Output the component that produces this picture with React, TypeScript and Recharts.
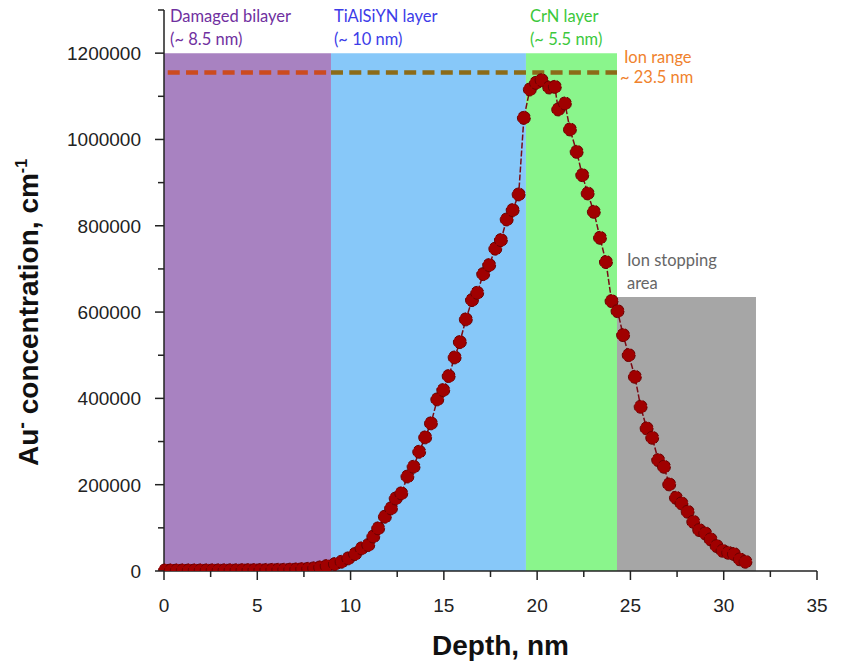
import { LineChart, Line, XAxis, YAxis, ReferenceArea, ReferenceLine } from "recharts";

// ─── Data ────────────────────────────────────────────────
const depth = [
  0.05, 0.37, 0.69, 1.01, 1.33, 1.65, 1.97, 2.29, 2.61, 2.93, 3.25, 3.57, 3.89, 4.21, 4.53, 4.85,
  5.17, 5.49, 5.81, 6.13, 6.45, 6.77, 7.09, 7.41, 7.73, 8.05, 8.37, 8.72, 9.16, 9.52, 9.88, 10.24,
  10.59, 10.95, 11.22, 11.48, 11.84, 12.17, 12.42, 12.72, 13.05, 13.38, 13.68, 14.0, 14.31, 14.65,
  14.97, 15.26, 15.58, 15.86, 16.18, 16.51, 16.79, 17.11, 17.43, 17.76, 18.06, 18.37, 18.69, 19.01,
  19.29, 19.61, 19.94, 20.24, 20.65, 20.95, 21.13, 21.49, 21.76, 22.12, 22.42, 22.71, 23.04, 23.37,
  23.69, 23.99, 24.31, 24.61, 24.91, 25.24, 25.55, 25.87, 26.17, 26.49, 26.8, 27.08, 27.44, 27.74,
  28.07, 28.37, 28.69, 29.01, 29.3, 29.62, 29.94, 30.24, 30.55, 30.87, 31.17,
];

const concentration = [
  1500, 1500, 1500, 1600, 1600, 1600, 1700, 1700, 1800, 1800, 1900, 2000, 2000, 2100, 2200, 2300,
  2400, 2500, 2700, 2900, 3100, 3400, 3800, 4400, 5200, 6500, 8500, 11600, 16200, 21500, 29400, 39400,
  52600, 60200, 80000, 98900, 125800, 145200, 168000, 180000, 219000, 241600, 276400, 309700, 342200, 397800,
  419300, 451700, 495000, 530500, 583100, 627800, 644700, 688000, 708900, 747000, 766800, 814700, 836300, 872700,
  1050100, 1115900, 1131200, 1137400, 1120500, 1121900, 1069600, 1083500, 1023200, 971400, 917400, 875000, 832400, 772200,
  716000, 625500, 602300, 546700, 500400, 450100, 380600, 330600, 308800, 257100, 241600, 200800, 169800, 156800,
  137400, 114200, 95000, 87300, 73400, 57900, 47000, 42400, 39400, 27100, 21500,
];

// layers (nm) and their shading heights
const layerNames = ["Damaged bilayer", "TiAlSiYN layer", "CrN layer", "Ion stopping"];
const layerNotes = ["(~ 8.5 nm)", "(~ 10 nm)", "(~ 5.5 nm)", "area"];
const layerStart = [0, 8.95, 19.4, 24.28];
const layerEnd = [8.95, 19.4, 24.28, 31.73];
const layerTop = [1200000, 1200000, 1200000, 635000];

const ionRangeLevel = 1155000;
const ionRangeStart = 0.2;
const ionRangeEnd = 24.28;

const xTicks = [0, 2.5, 5, 7.5, 10, 12.5, 15, 17.5, 20, 22.5, 25, 27.5, 30, 32.5, 35];
const yTicks = [
  0, 100000, 200000, 300000, 400000, 500000, 600000, 700000, 800000, 900000, 1000000, 1100000,
  1200000, 1300000,
];

const chartData = depth.map((d, i) => ({ depth: d, conc: concentration[i] }));

// ─── Styles ──────────────────────────────────────────────
const layerFill = ["#A882C1", "#87C8F9", "#8AF58C", "#A6A6A6"];
const layerText = ["#7030A0", "#3C3CE8", "#3CC83C", "#666666"];
const ARIAL = "'Liberation Sans', Arial, sans-serif";
const CALIBRI = "Lato, 'Open Sans', sans-serif";

function XTick({ x, y, payload }: any) {
  const v = payload.value;
  const major = v % 5 === 0;
  return (
    <g>
      <line x1={x} y1={y} x2={x} y2={y + (major ? 9 : 6)} stroke="#222" strokeWidth={1.5} />
      {major && (
        <text x={x} y={y + 41} textAnchor="middle" fontSize={19} fill="#222" fontFamily={ARIAL}>
          {v}
        </text>
      )}
    </g>
  );
}

function YTick({ x, y, payload }: any) {
  const v = payload.value;
  const major = v % 200000 === 0;
  return (
    <g>
      <line x1={x - (major ? 9 : 6)} y1={y} x2={x} y2={y} stroke="#222" strokeWidth={1.5} />
      {major && (
        <text x={x - 23} y={y + 7} textAnchor="end" fontSize={19} fill="#222" fontFamily={ARIAL}>
          {v}
        </text>
      )}
    </g>
  );
}

function layerLabel(i: number, dx: number) {
  return ({ viewBox }: any) => (
    <text fontFamily={CALIBRI} fontSize={16.5} fill={layerText[i]}>
      <tspan x={viewBox.x + dx} y={viewBox.y - 31}>
        {layerNames[i]}
      </tspan>
      <tspan x={viewBox.x + dx} y={viewBox.y - 8}>
        {layerNotes[i]}
      </tspan>
    </text>
  );
}

const ionLabel = ({ viewBox }: any) => {
  const end = viewBox.x + viewBox.width;
  return (
    <text fontFamily={CALIBRI} fontSize={16.5} fill="#F0822D">
      <tspan x={end + 7} y={viewBox.y - 10}>
        Ion range
      </tspan>
      <tspan x={end + 3} y={viewBox.y + 10}>
        ~ 23.5 nm
      </tspan>
    </text>
  );
};

const xTitle = ({ viewBox }: any) => (
  <text
    x={viewBox.x + viewBox.width / 2 + 10}
    y={viewBox.y + 84}
    textAnchor="middle"
    fontFamily={ARIAL}
    fontWeight="bold"
    fontSize={28}
    fill="#111"
  >
    Depth, nm
  </text>
);

const yTitle = ({ viewBox }: any) => {
  const cx = 38;
  const cy = viewBox.y + viewBox.height / 2 + 22;
  return (
    <text
      x={cx}
      y={cy}
      transform={`rotate(-90, ${cx}, ${cy})`}
      textAnchor="middle"
      fontFamily={ARIAL}
      fontWeight="bold"
      fontSize={28}
      fill="#111"
    >
      Au
      <tspan dy={-10} fontSize={20}>
        -
      </tspan>
      <tspan dy={10}> concentration, cm</tspan>
      <tspan dy={-11} fontSize={16}>
        -1
      </tspan>
    </text>
  );
};

export default function App() {
  return (
    <div style={{ position: "absolute", left: 0, top: 0, width: 843, height: 663, background: "#fff" }}>
      <LineChart
        width={843}
        height={663}
        data={chartData}
        margin={{ top: 10, right: 26, bottom: 0, left: 0 }}
      >
        {layerNames.map((name, i) => (
          <ReferenceArea
            key={name}
            x1={layerStart[i]}
            x2={layerEnd[i]}
            y1={0}
            y2={layerTop[i]}
            fill={layerFill[i]}
            fillOpacity={1}
            stroke="none"
            label={layerLabel(i, [6, 3, 4, 10][i])}
          />
        ))}
        <XAxis
          dataKey="depth"
          type="number"
          domain={[0, 35]}
          ticks={xTicks}
          interval={0}
          height={92}
          tickSize={0}
          tickMargin={0}
          tickLine={false}
          tick={<XTick />}
          axisLine={{ stroke: "#222", strokeWidth: 1.5 }}
          label={xTitle}
        />
        <YAxis
          type="number"
          domain={[0, 1300000]}
          ticks={yTicks}
          interval={0}
          width={164}
          allowDataOverflow
          tickSize={0}
          tickMargin={0}
          tickLine={false}
          tick={<YTick />}
          axisLine={{ stroke: "#222", strokeWidth: 1.5 }}
          label={yTitle}
        />
        <ReferenceLine
          segment={[
            { x: ionRangeStart, y: ionRangeLevel },
            { x: layerEnd[0], y: ionRangeLevel },
          ]}
          stroke="#CC4B1F"
          strokeWidth={4.5}
          strokeDasharray="12 6.3"
        />
        <ReferenceLine
          segment={[
            { x: layerEnd[0], y: ionRangeLevel },
            { x: ionRangeEnd, y: ionRangeLevel },
          ]}
          stroke="#8C6B18"
          strokeWidth={4.5}
          strokeDasharray="12 6.3"
          label={ionLabel}
        />
        <Line
          type="linear"
          dataKey="conc"
          stroke="#7A0A14"
          strokeWidth={1.5}
          strokeDasharray="6 2"
          dot={{ r: 6.5, fill: "#A00000", stroke: "#6A0000", strokeWidth: 1 }}
          activeDot={false}
          isAnimationActive={false}
        />
      </LineChart>
    </div>
  );
}
